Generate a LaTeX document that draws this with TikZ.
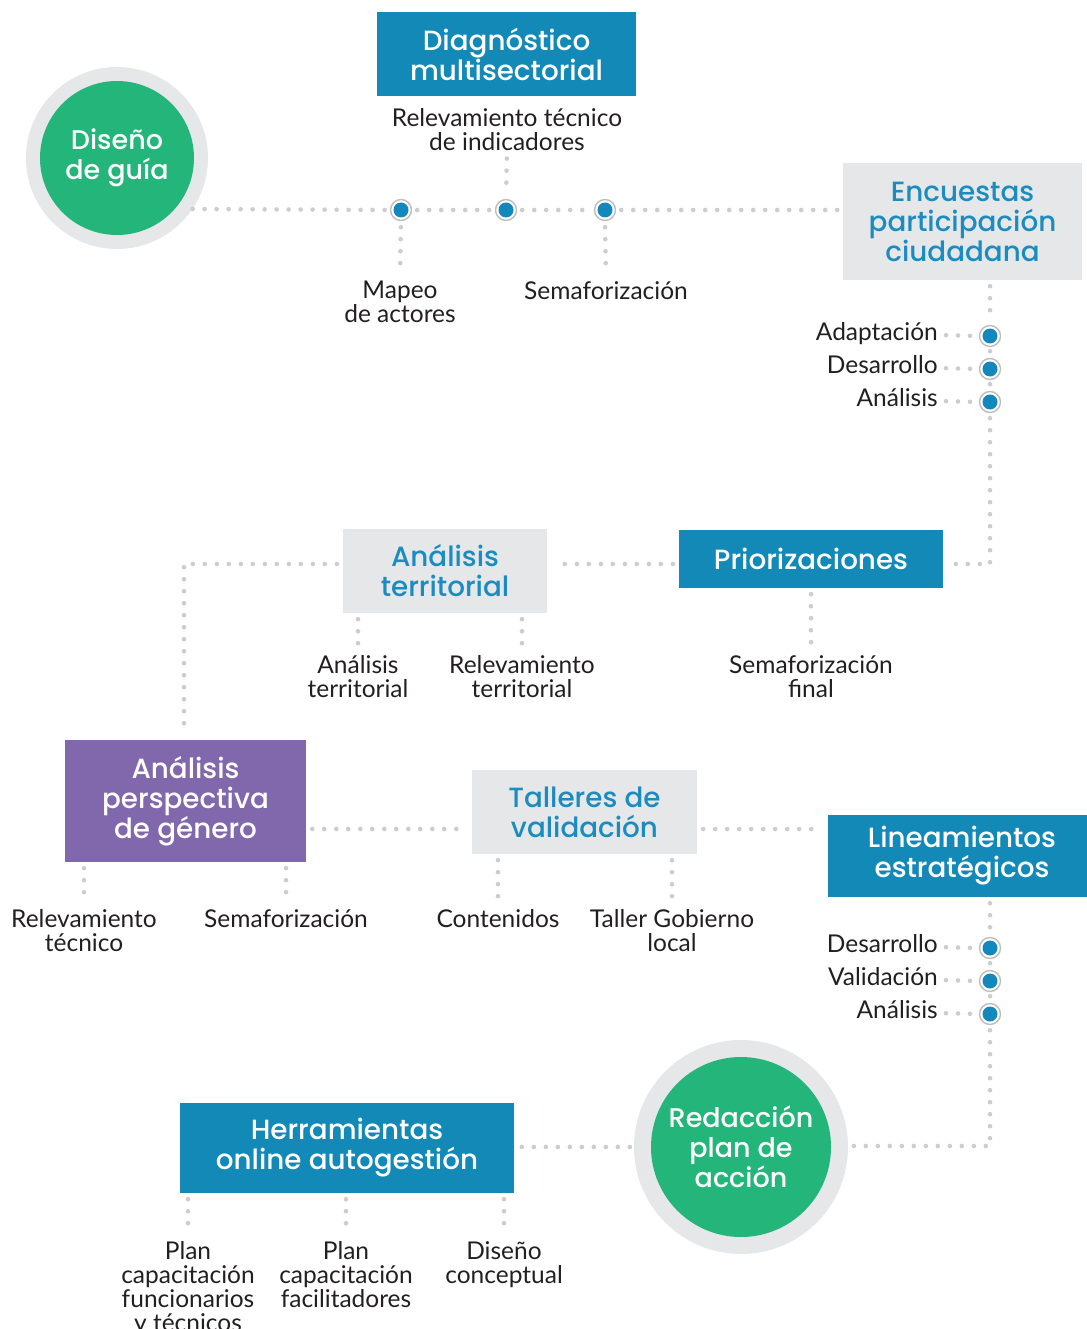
\documentclass[tikz,border=0pt]{standalone}
\usepackage{fontspec}
\setmainfont{Lato}
\newfontfamily\headfont{Poppins}[UprightFont=* Medium]
\usetikzlibrary{calc}
\definecolor{boxblue}{HTML}{1389B8}
\definecolor{boxgray}{HTML}{E6E7E8}
\definecolor{ringgray}{HTML}{E6E7E8}
\definecolor{headblue}{HTML}{1B8CC0}
\definecolor{discgreen}{HTML}{23B57A}
\definecolor{genpurple}{HTML}{8168AD}
\definecolor{dotgray}{HTML}{CDCDD0}
\definecolor{markblue}{HTML}{1388BD}
\definecolor{markring}{HTML}{BDBDBD}
\definecolor{ink}{HTML}{231F20}
\begin{document}
\begin{tikzpicture}[x=1pt,y=-1pt,
  dots/.style={draw=dotgray, line width=4.6pt, line cap=round, dash pattern=on 0pt off 12pt},
  hbox/.style={rectangle, inner sep=0pt, align=center, font=\headfont\fontsize{27.8}{30}\selectfont},
  bluebox/.style={hbox, fill=boxblue, text=white},
  graybox/.style={hbox, fill=boxgray, text=headblue},
  purplebox/.style={hbox, fill=genpurple, text=white},
  lbl/.style={anchor=north, align=center, inner sep=0pt, text=ink, font=\fontsize{24.5}{24}\selectfont},
  side/.style={anchor=east, inner sep=0pt, text=ink, font=\fontsize{24.5}{24}\selectfont, text height=16pt, text depth=5pt},
  marker/.style={circle, draw=markring, line width=1.4pt, fill=white, minimum size=21pt, inner sep=0pt,
    path picture={\fill[markblue] (path picture bounding box.center) circle[radius=7.5pt];}},
  ringnode/.style={circle, fill=ringgray, inner sep=0pt},
  disc/.style={circle, fill=discgreen, text=white, inner sep=0pt, align=center, font=\headfont\fontsize{27}{30}\selectfont},
  lead/.style={dots, shorten <=6pt, shorten >=8pt}
]
\useasboundingbox (0,0) rectangle (1086,1329);

% circles
\node[ringnode, minimum size=182pt] (guiaring) at (117,158) {};
\node[disc, minimum size=154pt] (guia) at (117,158) {Diseño\\de guía};
\node[ringnode, minimum size=214pt] (redring) at (741,1147) {};
\node[disc, minimum size=180pt] (redac) at (741,1147) {Redacción\\plan de\\acción};

% boxes
\node[bluebox, minimum width=259pt, minimum height=84pt] (diag) at (506.5,54) {Diagnóstico\\multisectorial};
\node[graybox, minimum width=239pt, minimum height=117pt] (enc) at (962.5,221.5) {Encuestas\\participación\\ciudadana};
\node[bluebox, minimum width=264pt, minimum height=58pt] (prio) at (811,559) {Priorizaciones};
\node[graybox, minimum width=204pt, minimum height=84pt] (terr) at (445,571) {Análisis\\territorial};
\node[purplebox, minimum width=241pt, minimum height=122pt] (gen) at (185.5,801) {Análisis\\perspectiva\\de género};
\node[graybox, minimum width=225pt, minimum height=84pt] (tall) at (584.5,812) {Talleres de\\validación};
\node[bluebox, minimum width=268pt, minimum height=82pt] (linea) at (962,856) {Lineamientos\\estratégicos};
\node[bluebox, minimum width=334pt, minimum height=90pt] (herr) at (347,1148) {Herramientas\\online autogestión};

% markers
\node[marker] (m1) at (401,210) {};
\node[marker] (m2) at (506,210) {};
\node[marker] (m3) at (605,210) {};
\node[marker] (ea1) at (990,336) {};
\node[marker] (ea2) at (990,369) {};
\node[marker] (ea3) at (990,402) {};
\node[marker] (lb1) at (990,948) {};
\node[marker] (lb2) at (990,981) {};
\node[marker] (lb3) at (990,1014) {};

% turning points
\coordinate (c1) at (990,564);
\coordinate (c2) at (184,564);
\coordinate (c3) at (990,1146);
\coordinate (row4) at (585,829);

% labels
\node[lbl] (relind) at (507,108) {Relevamiento técnico\\de indicadores};
\node[lbl] (mapeo) at (400,281) {Mapeo\\de actores};
\node[lbl] (sema1) at (606,281) {Semaforización};
\node[side] (sadapt) at (938,335) {Adaptación};
\node[side] (sdes) at (938,368) {Desarrollo};
\node[side] (sana) at (938,401) {Análisis};
\node[lbl] (semfin) at (811,655) {Semaforización\\final};
\node[lbl] (terrl1) at (358,655) {Análisis\\territorial};
\node[lbl] (terrl2) at (522,655) {Relevamiento\\territorial};
\node[lbl] (genl1) at (84,909) {Relevamiento\\técnico};
\node[lbl] (genl2) at (286,909) {Semaforización};
\node[lbl] (tall1) at (498,909) {Contenidos};
\node[lbl] (tall2) at (672,909) {Taller Gobierno\\local};
\node[side] (ldes) at (938,947) {Desarrollo};
\node[side] (lval) at (938,980) {Validación};
\node[side] (lana) at (938,1013) {Análisis};
\node[lbl] (herr1) at (188,1241) {Plan\\capacitación\\funcionarios\\y técnicos};
\node[lbl] (herr2) at (346,1241) {Plan\\capacitación\\facilitadores};
\node[lbl] (herr3) at (504,1241) {Diseño\\conceptual};

% connectors
\draw[dots, shorten >=4pt] (guiaring.-34) -- (m1.west);
\draw[dots, shorten <=5pt, shorten >=5pt] (m1.east) -- (m2.west);
\draw[dots, shorten <=5pt, shorten >=5pt] (m2.east) -- (m3.west);
\draw[dots, shorten <=5pt, shorten >=4pt] (m3.east) -- (enc.west |- m3);
\draw[dots, shorten <=8pt, shorten >=5pt] (relind.south) -- (m2.north);
\draw[lead] (m1.south) -- (mapeo.north);
\draw[lead] (m3.south) -- (sema1.north);

\draw[dots, shorten <=6pt, shorten >=4pt] (enc.south -| ea1) -- (ea1.north);
\draw[dots, shorten <=4pt, shorten >=4pt] (ea1.south) -- (ea2.north);
\draw[dots, shorten <=4pt, shorten >=4pt] (ea2.south) -- (ea3.north);
\draw[dots, shorten <=5pt, shorten >=4pt] (ea3.south) -- (c1) -- (c1 -| prio.east);
\draw[dots, shorten <=8pt, shorten >=4pt] (sadapt.east) -- (ea1.west);
\draw[dots, shorten <=8pt, shorten >=4pt] (sdes.east) -- (ea2.west);
\draw[dots, shorten <=8pt, shorten >=4pt] (sana.east) -- (ea3.west);

\draw[dots, shorten <=6pt, shorten >=6pt] (c1 -| prio.west) -- (c1 -| terr.east);
\draw[dots, shorten <=6pt, shorten >=6pt] (c1 -| terr.west) -- (c2) -- (c2 |- gen.north);
\draw[lead] (prio.south) -- (semfin.north);
\draw[lead] (terrl1.north |- terr.south) -- (terrl1.north);
\draw[lead] (terrl2.north |- terr.south) -- (terrl2.north);

\draw[dots, shorten <=6pt, shorten >=6pt] (row4 -| gen.east) -- (row4 -| tall.west);
\draw[dots, shorten <=6pt, shorten >=6pt] (row4 -| tall.east) -- (row4 -| linea.west);
\draw[lead] (genl1.north |- gen.south) -- (genl1.north);
\draw[lead] (genl2.north |- gen.south) -- (genl2.north);
\draw[lead] (tall1.north |- tall.south) -- (tall1.north);
\draw[lead] (tall2.north |- tall.south) -- (tall2.north);

\draw[dots, shorten <=6pt, shorten >=4pt] (linea.south -| lb1) -- (lb1.north);
\draw[dots, shorten <=4pt, shorten >=4pt] (lb1.south) -- (lb2.north);
\draw[dots, shorten <=4pt, shorten >=4pt] (lb2.south) -- (lb3.north);
\draw[dots, shorten <=5pt, shorten >=4pt] (lb3.south) -- (c3) -- (c3 -| redring.east);
\draw[dots, shorten <=8pt, shorten >=4pt] (ldes.east) -- (lb1.west);
\draw[dots, shorten <=8pt, shorten >=4pt] (lval.east) -- (lb2.west);
\draw[dots, shorten <=8pt, shorten >=4pt] (lana.east) -- (lb3.west);

\draw[dots, shorten <=4pt, shorten >=6pt] (redring.west) -- (redring.west -| herr.east);
\draw[lead] (herr1.north |- herr.south) -- (herr1.north);
\draw[lead] (herr2.north |- herr.south) -- (herr2.north);
\draw[lead] (herr3.north |- herr.south) -- (herr3.north);
\end{tikzpicture}
\end{document}
